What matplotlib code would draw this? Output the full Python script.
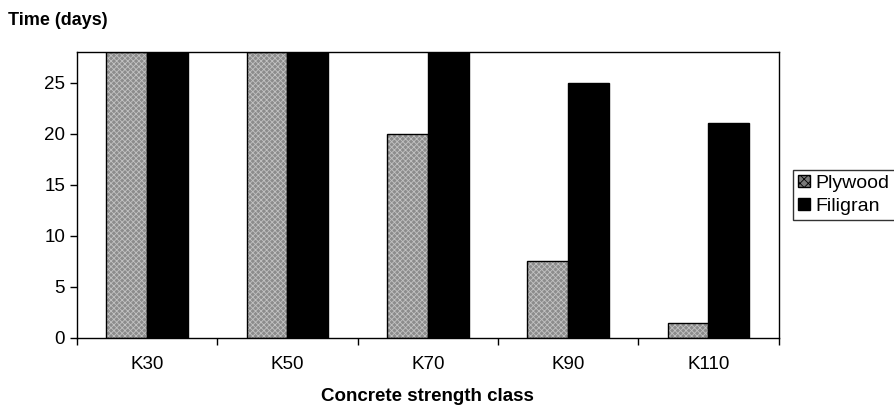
import matplotlib
matplotlib.use('Agg')
import matplotlib.pyplot as plt
import numpy as np

classes = ['K30', 'K50', 'K70', 'K90', 'K110']
plywood = [28, 28, 20, 7.5, 1.5]
filigran = [28, 28, 28, 25, 21]
yticks = [0, 5, 10, 15, 20, 25]

plt.rcParams['font.family'] = ['Liberation Sans', 'DejaVu Sans']
plt.rcParams['hatch.linewidth'] = 0.6

fig = plt.figure(figsize=(8.95, 4.08), dpi=100)
ax = fig.add_axes([0.086, 0.1716, 0.784, 0.701])

x = np.arange(len(classes))
w = 0.29
# stippled grey fill, hatch takes the edge colour, so outline drawn separately
ax.bar(x - w / 2, plywood, w, color='#8c8c8c', edgecolor='#c2c2c2', linewidth=0,
       hatch='xxxxxx')
ax.bar(x - w / 2, plywood, w, fill=False, edgecolor='black', linewidth=1.0)
ax.bar(x + w / 2, filigran, w, color='black', edgecolor='black', linewidth=1.0,
       label='Filigran')

# legend handle for plywood: dark grey square with black edge
from matplotlib.patches import Patch
ply_handle = Patch(facecolor='#7a7a7a', edgecolor='black', hatch='xxxx', label='Plywood')
fil_handle = Patch(facecolor='black', edgecolor='black', label='Filigran')

ax.set_xlim(-0.5, len(classes) - 0.5)
ax.set_ylim(0, 28)
ax.set_yticks(yticks)
ax.set_xticks(x)
ax.set_xticklabels(classes)
ax.set_xticks(np.arange(len(classes) + 1) - 0.5, minor=True)
ax.tick_params(axis='x', which='major', length=0, pad=13, labelsize=13.5)
ax.tick_params(axis='x', which='minor', length=5, width=1, direction='out')
ax.tick_params(axis='y', length=5, width=1, direction='out', labelsize=13.5)

for s in ax.spines.values():
    s.set_linewidth(1.0)
    s.set_color('black')

ax.set_xlabel('Concrete strength class', fontsize=13.5, fontweight='bold', labelpad=11)
fig.text(0.009, 0.95, 'Time (days)', fontsize=13, fontweight='bold', va='center')

leg = ax.legend(handles=[ply_handle, fil_handle], loc='center left',
                bbox_to_anchor=(1.021, 0.5), fontsize=14,
                frameon=True, fancybox=False, edgecolor='black',
                handlelength=0.6, handleheight=0.6, handletextpad=0.3,
                borderpad=0.25, labelspacing=0.3, borderaxespad=0)
leg.get_frame().set_linewidth(1.0)

fig.savefig('out.png', dpi=100)
